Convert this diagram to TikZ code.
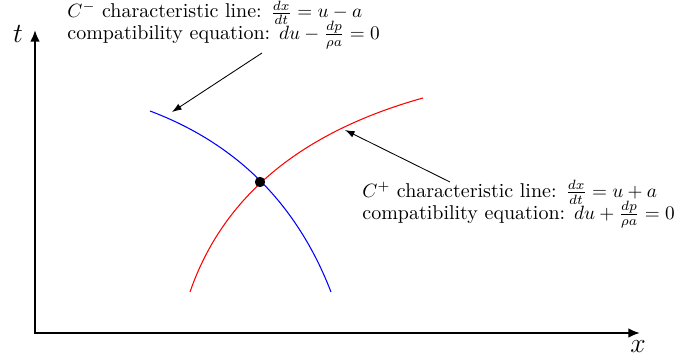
\documentclass[tikz,border=0pt]{standalone}
\usetikzlibrary{arrows.meta}
\begin{document}
\begin{tikzpicture}[x=0.52pt,y=-0.52pt,
  axis/.style={line width=1.1pt,{Latex[length=6pt,width=5pt]}-{Latex[length=6pt,width=5pt]}},
  pointer/.style={line width=0.45pt,-{Latex[length=5pt,width=3.5pt]}},
  curve/.style={line width=0.55pt},
  lbl/.style={align=left,anchor=base west,inner sep=0pt,font=\fontsize{10.4}{11.2}\selectfont}]
\useasboundingbox (0,0) rectangle (680,360);
\coordinate (O) at (35,333);
\coordinate (T) at (35,30);
\coordinate (X) at (640,333);
\draw[axis] (T) -- (O) -- (X);
\node (tl) at (18,34) {\Large$t$};
\node (xl) at (638,347) {\Large$x$};
% characteristic curves
\coordinate (bs) at (150,111);
\coordinate (be) at (331,292);
\coordinate (rs) at (190,292);
\coordinate (re) at (423,98);
\draw[curve,blue] (bs) .. controls (236.7,143.7) and (297,204) .. (be);
\draw[curve,red] (rs) .. controls (222.8,196.9) and (300.5,132.2) .. (re);
\node[circle,fill=black,inner sep=0pt,minimum size=5.4pt] (P) at (260,182) {};
% labels
\node[lbl] (cm) at (67,39.5) {$C^-$ characteristic line: $\smash{\frac{dx}{dt}}=u-a$\\compatibility equation: $du-\smash{\frac{dp}{\rho a}}=0$};
\node[lbl] (cp) at (362,219) {$C^+$ characteristic line: $\smash{\frac{dx}{dt}}=u+a$\\compatibility equation: $du+\smash{\frac{dp}{\rho a}}=0$};
\coordinate (a1s) at (262,53);
\coordinate (a1e) at (172,112);
\coordinate (a2s) at (450,182);
\coordinate (a2e) at (345,130);
\draw[pointer] (a1s) -- (a1e);
\draw[pointer] (a2s) -- (a2e);
\end{tikzpicture}
\end{document}
